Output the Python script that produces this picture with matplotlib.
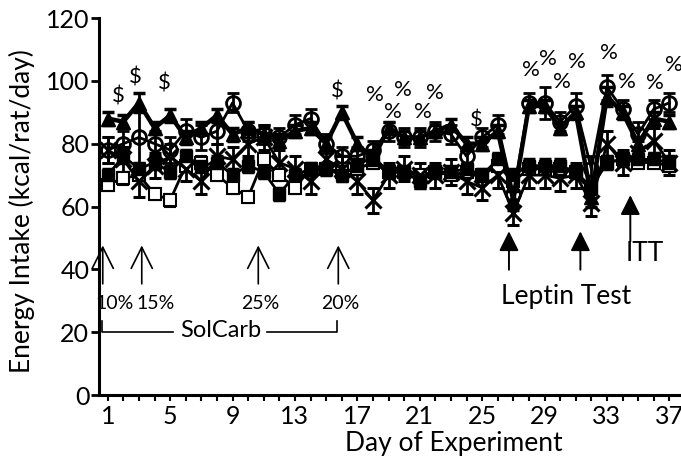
import matplotlib.pyplot as plt
import numpy as np

plt.rcParams['font.family'] = ['Lato', 'DejaVu Sans']

days = np.arange(1, 38)

# filled triangles (thick line)
tri = [88, 87, 93, 85, 89, 82, 85, 89, 83, 85, 83, 81, 84, 85, 80, 90, 80, 75, 85,
       82, 82, 84, 86, 80, 80, 84, 62, 92, 92, 85, 90, 63, 95, 90, 80, 88, 87]
tri_err = [2, 2, 3, 2, 2, 2, 2, 2, 2, 2, 2, 2, 2, 2, 2, 2, 2, 2, 2,
           2, 2, 2, 2, 2, 2, 2, 3, 2, 2, 2, 2, 3, 3, 2, 2, 2, 2]
# open circles
circ = [78, 80, 82, 80, 78, 84, 82, 84, 93, 84, 83, 82, 86, 88, 80, 76, 76, 78, 84,
        82, 82, 84, 83, 76, 82, 86, 64, 93, 93, 87, 92, 72, 98, 91, 83, 91, 93]
circ_err = [4, 4, 8, 4, 4, 4, 4, 4, 3, 3, 3, 3, 3, 3, 3, 3, 3, 3, 3,
            3, 3, 3, 3, 3, 3, 3, 4, 3, 5, 3, 4, 4, 4, 3, 4, 3, 3]
# filled squares
sq = [70, 76, 72, 74, 71, 76, 73, 74, 70, 73, 71, 64, 70, 72, 72, 70, 73, 76, 71,
      71, 68, 71, 71, 72, 70, 75, 70, 73, 73, 73, 71, 66, 74, 75, 75, 75, 74]
sq_err = [2, 2, 2, 2, 2, 2, 2, 2, 2, 2, 2, 2, 2, 2, 2, 2, 2, 2, 2,
          2, 2, 2, 2, 2, 2, 2, 2, 2, 2, 2, 2, 2, 2, 2, 2, 2, 2]
# open squares
osq = [67, 69, 70, 64, 62, 73, 74, 70, 66, 63, 75, 70, 66, 72, 72, 71, 72, 74, 71,
       71, 70, 71, 70, 71, 70, 73, 68, 72, 72, 72, 71, 66, 74, 75, 74, 74, 73]
osq_err = [2, 2, 2, 2, 2, 2, 2, 2, 2, 2, 2, 2, 2, 2, 2, 2, 2, 2, 2,
           2, 2, 2, 2, 2, 2, 2, 2, 2, 2, 2, 2, 2, 2, 2, 2, 2, 2]
# crosses
crs = [78, 75, 68, 73, 76, 72, 68, 76, 75, 80, 82, 74, 72, 68, 75, 72, 68, 62, 70,
       72, 70, 70, 71, 68, 66, 70, 58, 70, 70, 69, 70, 61, 80, 74, 77, 81, 74]
crs_err = [4, 4, 5, 4, 4, 4, 4, 4, 4, 4, 4, 4, 4, 4, 4, 4, 4, 4, 4,
           4, 4, 4, 4, 4, 4, 4, 4, 4, 4, 4, 4, 4, 4, 4, 4, 4, 4]

dollar_x = [1.66, 2.75, 4.6, 15.7, 24.6]
dollar_y = [95, 101, 99, 96.5, 87.5]
pct_x = [18.1, 19.3, 19.9, 21.2, 22.0, 28.1, 29.2, 30.1, 31.1, 33.1, 34.3, 36.1, 37.3]
pct_y = [95.5, 90, 97, 90, 96, 103.5, 107, 99.7, 106, 109, 99.7, 99.4, 105]

solcarb_x = [0.68, 3.18, 10.65, 15.78]
solcarb_lab = ['10%', '15%', '25%', '20%']
solcarb_lab_x = [1.47, 4.07, 10.8, 15.93]
leptin_x = [26.72, 31.3]
itt_x = 34.5

fig = plt.figure(figsize=(6.81, 4.62), dpi=100)
ax = fig.add_axes([0.1454, 0.145, 0.8546, 0.816])

ebkw = dict(color='black', elinewidth=2, capsize=4, capthick=2.5, clip_on=False)
ax.errorbar(days, osq, yerr=osq_err, marker='s', ms=9, mfc='white', mec='black', mew=1.5,
            lw=2, **ebkw)
ax.errorbar(days, sq, yerr=sq_err, marker='s', ms=9, mfc='black', mec='black',
            lw=2, **ebkw)
ax.errorbar(days, crs, yerr=crs_err, marker='x', ms=11, mew=2.2, mec='black',
            lw=2, **ebkw)
ax.errorbar(days, circ, yerr=circ_err, marker='o', ms=10, mfc='none', mec='black', mew=2,
            lw=2, **ebkw)
ax.errorbar(days, tri, yerr=tri_err, marker='^', ms=10, mfc='black', mec='black',
            lw=3.2, **ebkw)

for x, y in zip(dollar_x, dollar_y):
    ax.text(x, y, '$', ha='center', va='center', fontsize=16)
for x, y in zip(pct_x, pct_y):
    ax.text(x, y, '%', ha='center', va='center', fontsize=16)

# SolCarb open arrows
for x in solcarb_x:
    ax.annotate('', xy=(x, 48.5), xytext=(x, 34.5),
                arrowprops=dict(arrowstyle='->', lw=1.2, color='black', mutation_scale=38))
for x, t in zip(solcarb_lab_x, solcarb_lab):
    ax.text(x, 29, t, ha='center', va='center', fontsize=14)
ax.plot([0.65, 0.65, 5.18], [23.5, 20.2, 20.2], color='black', lw=1.2)
ax.plot([11.2, 15.72, 15.72], [20.2, 20.2, 23.5], color='black', lw=1.2)
ax.text(8.26, 20.6, 'SolCarb', ha='center', va='center', fontsize=17)

# leptin / ITT filled arrows
for x in leptin_x:
    ax.annotate('', xy=(x, 53), xytext=(x, 39),
                arrowprops=dict(arrowstyle='-|>', lw=1.4, color='black', mutation_scale=30))
ax.text(30.4, 31.2, 'Leptin Test', ha='center', va='center', fontsize=19)
ax.annotate('', xy=(itt_x, 64.5), xytext=(itt_x, 48),
            arrowprops=dict(arrowstyle='-|>', lw=1.4, color='black', mutation_scale=30))
ax.text(35.45, 45.2, 'ITT', ha='center', va='center', fontsize=19)

ax.set_xlim(0.44, 37.75)
ax.set_ylim(0, 120)
ax.set_yticks(range(0, 121, 20))
ax.set_xticks(range(1, 38, 4))
ax.set_xticks(range(1, 38), minor=True)
ax.spines['top'].set_visible(False)
ax.spines['right'].set_visible(False)
ax.spines['left'].set_linewidth(2.2)
ax.spines['bottom'].set_linewidth(2.2)
ax.tick_params(axis='y', length=6, width=2, labelsize=18, pad=1)
ax.tick_params(axis='x', which='major', length=4, width=1.5, labelsize=18, pad=3)
ax.tick_params(axis='x', which='minor', length=4, width=1.5)

fig.text(454 / 681, 1 - 443 / 462, 'Day of Experiment', ha='center', va='center', fontsize=19)
fig.text(22 / 681, 1 - 211 / 462, 'Energy Intake (kcal/rat/day)', ha='center', va='center',
         rotation=90, fontsize=19)

fig.savefig('out.png', dpi=100)
